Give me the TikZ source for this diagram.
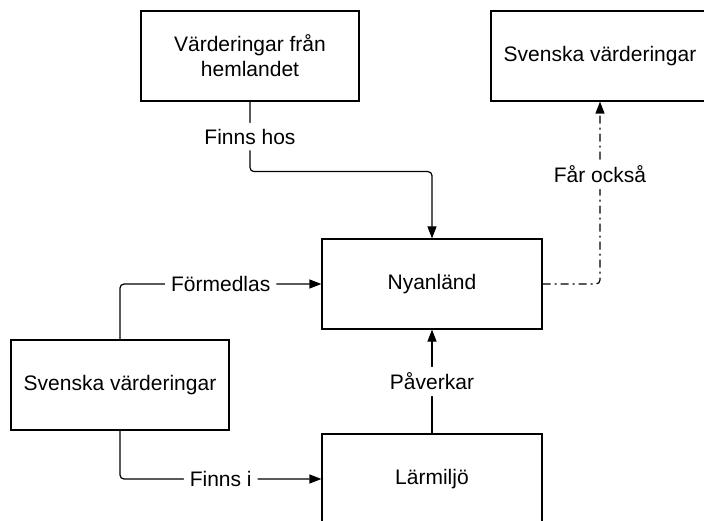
\documentclass[tikz,border=0pt]{standalone}
\usepackage{fontspec}
\setmainfont{Liberation Sans}
\usetikzlibrary{arrows.meta}

\tikzset{
  box/.style={draw, line width=1.2pt, minimum width=218pt, minimum height=90pt,
    align=center, font=\fontsize{21}{25}\selectfont},
  link/.style={line width=1.2pt, rounded corners=4pt,
    -{Triangle[length=12pt,width=9pt]}},
  lbl/.style={fill=white, inner sep=6pt, font=\fontsize{21}{25}\selectfont},
  dashdot/.style={dash pattern=on 8pt off 4pt on 2pt off 4pt},
}

\begin{document}
\begin{tikzpicture}[x=1pt,y=-1pt]
\clip (0,0) rectangle (704,521);
\fill[white] (0,0) rectangle (704,521);
\node[box] (hem) at (250,56) {Värderingar från\\hemlandet};
\node[box] (svtop) at (600,56) {Svenska värderingar};
\node[box, minimum width=220pt] (ny) at (432,284) {Nyanländ};
\node[box] (svleft) at (120,385) {Svenska värderingar};
\node[box, minimum width=220pt] (lar) at (432,479) {Lärmiljö};
\draw[link] (hem.south) -- node[lbl] {Finns hos} ++(0,70) -| (ny.north);
\draw[link] (svleft.north) |- node[lbl, pos=.75] {Förmedlas} (ny.west);
\draw[link] (svleft.south) |- node[lbl, pos=.75] {Finns i} (lar.west);
\draw[link] (lar.north) -- node[lbl] {Påverkar} (ny.south);
\draw[link, dashdot] (ny.east) -| node[lbl, pos=.8] {Får också} (svtop.south);
\end{tikzpicture}
\end{document}
